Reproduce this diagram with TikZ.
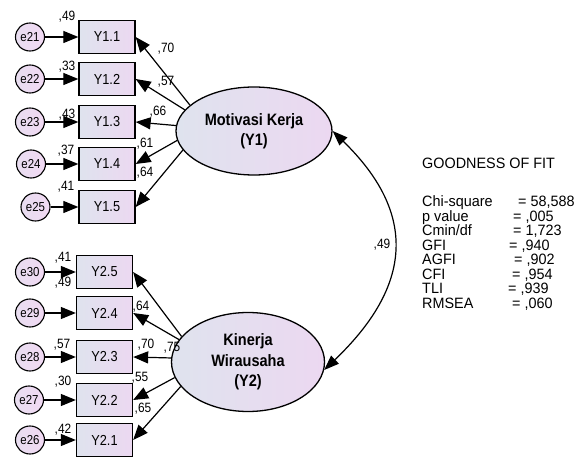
\documentclass[tikz,border=0pt]{standalone}
\usepackage{fontspec}
\setmainfont{Liberation Sans}
\newfontfamily\nf[FakeStretch=0.88]{Liberation Sans}
\newfontfamily\ff[FakeStretch=0.96]{Liberation Sans}
\usetikzlibrary{shapes.geometric,arrows.meta}
\definecolor{cl}{HTML}{DFE3EE}
\definecolor{cr}{HTML}{ECD8F1}
\definecolor{el}{HTML}{E8DDF0}
\definecolor{er}{HTML}{F1D9F3}
\begin{document}
\begin{tikzpicture}[x=1pt,y=-1pt,
  obs/.style={draw, line width=1.3pt, rectangle, minimum width=56pt, minimum height=33pt,
    left color=cl, right color=cr, inner sep=0pt, font=\nf\fontsize{14.5}{15}\selectfont},
  err/.style={draw, line width=1.1pt, ellipse, minimum width=29pt, minimum height=28pt,
    left color=el, right color=er, inner sep=0pt, font=\nf\fontsize{13}{14}\selectfont},
  lat/.style={draw, line width=1.3pt, ellipse, left color=cl, right color=cr, inner sep=0pt,
    align=center, font=\nf\bfseries\fontsize{16.5}{20.5}\selectfont},
  arr/.style={-{Triangle[length=15pt,width=12pt]}, line width=1.2pt},
  dbl/.style={{Triangle[length=15pt,width=11pt]}-{Triangle[length=15pt,width=11pt]}, line width=1.2pt},
  lbl/.style={inner sep=0pt, font=\nf\fontsize{13.5}{14}\selectfont},
  fitt/.style={inner sep=0pt, anchor=base west, font=\ff\fontsize{15}{15}\selectfont}]
\useasboundingbox (0,0) rectangle (579,457);

% observed variables
\node[obs] (Y11) at (107,37) {Y1.1};
\node[obs] (Y12) at (107,79) {Y1.2};
\node[obs] (Y13) at (107,122) {Y1.3};
\node[obs] (Y14) at (107,164) {Y1.4};
\node[obs] (Y15) at (107,207) {Y1.5};
\node[obs] (Y25) at (104.5,272) {Y2.5};
\node[obs] (Y24) at (104.5,313) {Y2.4};
\node[obs] (Y23) at (104.5,357) {Y2.3};
\node[obs] (Y22) at (104.5,400) {Y2.2};
\node[obs] (Y21) at (104.5,440) {Y2.1};

% errors
\node[err] (e21) at (30,37) {e21};
\node[err] (e22) at (30,79) {e22};
\node[err] (e23) at (30,122) {e23};
\node[err] (e24) at (31,164) {e24};
\node[err] (e25) at (35.5,207) {e25};
\node[err] (e30) at (30,272) {e30};
\node[err] (e29) at (30,313) {e29};
\node[err] (e28) at (30,357) {e28};
\node[err] (e27) at (29,400) {e27};
\node[err] (e26) at (30,440) {e26};

% latent variables
\node[lat, minimum width=156pt, minimum height=88pt] (F1) at (254,131) {Motivasi Kerja\\(Y1)};
\node[lat, minimum width=153pt, minimum height=99pt] (F2) at (248,362) {Kinerja\\Wirausaha\\(Y2)};

% labels
\node[lbl] (l1) at (67,17) {,49};
\node[lbl] (l2) at (67,67) {,33};
\node[lbl] (l3) at (67,115) {,43};
\node[lbl] (l4) at (66,151) {,37};
\node[lbl] (l5) at (66,187) {,41};
\node[lbl] (m1) at (166,49) {,70};
\node[lbl] (m2) at (166,82) {,57};
\node[lbl] (m3) at (158,112) {,66};
\node[lbl] (m4) at (145,144) {,61};
\node[lbl] (m5) at (145,173) {,64};
\node[lbl] (l6) at (63,258) {,41};
\node[lbl] (l7) at (63,283) {,49};
\node[lbl] (l8) at (62,345) {,57};
\node[lbl] (l9) at (63,382) {,30};
\node[lbl] (l10) at (63,430) {,42};
\node[lbl] (n1) at (141,307) {,64};
\node[lbl] (n2) at (146,345) {,70};
\node[lbl] (n3) at (172,348) {,75};
\node[lbl] (n4) at (140,378) {,55};
\node[lbl] (n5) at (143,409) {,65};
\node[lbl] (c1) at (382,245) {,49};

% error arrows
\foreach \e/\y in {e21/Y11,e22/Y12,e23/Y13,e24/Y14,e25/Y15,e30/Y25,e29/Y24,e28/Y23,e27/Y22,e26/Y21}
  \draw[arr] (\e) -- (\y);

% loadings
\draw[arr] (F1.158) -- (Y11.east);
\draw[arr] (F1.163) -- (Y12.east);
\draw[arr] (F1.176) -- (Y13.east);
\draw[arr] (F1.187) -- (Y14.east);
\draw[arr] (F1.195) -- (Y15.east);
\draw[arr] (F2.159) -- (Y25.east);
\draw[arr] (F2.162) -- (Y24.east);
\draw[arr] (F2.177) -- (Y23.east);
\draw[arr] (F2.192) -- (Y22.east);
\draw[arr] (F2.200) -- (Y21.east);

% covariance
\draw[dbl] (F1.east) .. controls (418,214) and (412,286) .. (F2.-6);

% goodness of fit
\node[fitt] (g0) at (422,169) {GOODNESS OF FIT};
\node[fitt] (g1) at (422,207) {Chi-square};
\node[fitt] (g2) at (422,221.5) {p value};
\node[fitt] (g3) at (422,236) {Cmin/df};
\node[fitt] (g4) at (422,250.5) {GFI};
\node[fitt] (g5) at (422,265) {AGFI};
\node[fitt] (g6) at (422,279.5) {CFI};
\node[fitt] (g7) at (422,294) {TLI};
\node[fitt] (g8) at (422,308.5) {RMSEA};
\node[fitt] (v1) at (518,207) {= 58,588};
\node[fitt] (v2) at (513,221.5) {= ,005};
\node[fitt] (v3) at (513,236) {= 1,723};
\node[fitt] (v4) at (509,250.5) {= ,940};
\node[fitt] (v5) at (514,265) {= ,902};
\node[fitt] (v6) at (512,279.5) {= ,954};
\node[fitt] (v7) at (508,294) {= ,939};
\node[fitt] (v8) at (512,308.5) {= ,060};
\end{tikzpicture}
\end{document}
